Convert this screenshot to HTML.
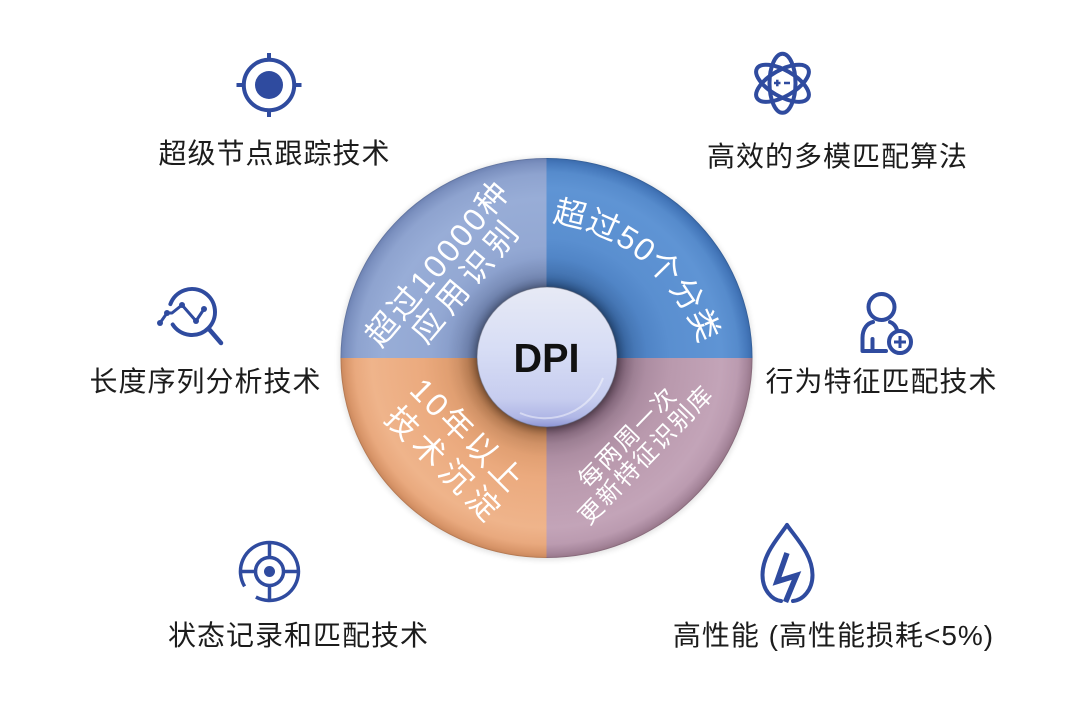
<!DOCTYPE html>
<html>
<head>
<meta charset="utf-8">
<style>
html,body{margin:0;padding:0;background:#fff;}
svg{display:block;}
.lbl{font-family:"Liberation Sans","Noto Sans CJK SC",sans-serif;font-size:28px;fill:#1c1c1c;letter-spacing:1px;text-anchor:middle;}
.q{font-family:"Liberation Sans","Noto Sans CJK SC",sans-serif;fill:#fff;text-anchor:middle;}
</style>
</head>
<body>
<svg width="1080" height="717" viewBox="0 0 1080 717" xmlns="http://www.w3.org/2000/svg">
<defs>
  <radialGradient id="gTL" gradientUnits="userSpaceOnUse" cx="0" cy="0" r="206">
    <stop offset="0.33" stop-color="#6a7fb0"/>
    <stop offset="0.43" stop-color="#8499c7"/>
    <stop offset="0.56" stop-color="#93a8d3"/>
    <stop offset="0.8" stop-color="#98add7"/>
    <stop offset="0.92" stop-color="#8ea3cf"/>
    <stop offset="0.975" stop-color="#7b90bf"/>
    <stop offset="1" stop-color="#6d82b3"/>
  </radialGradient>
  <radialGradient id="gTR" gradientUnits="userSpaceOnUse" cx="0" cy="0" r="206">
    <stop offset="0.33" stop-color="#30609f"/>
    <stop offset="0.43" stop-color="#4a7ec0"/>
    <stop offset="0.6" stop-color="#5a8fd0"/>
    <stop offset="0.85" stop-color="#5f94d4"/>
    <stop offset="0.93" stop-color="#568bcc"/>
    <stop offset="0.975" stop-color="#4578bb"/>
    <stop offset="1" stop-color="#3a6aab"/>
  </radialGradient>
  <radialGradient id="gBL" gradientUnits="userSpaceOnUse" cx="0" cy="0" r="206">
    <stop offset="0.33" stop-color="#b8784a"/>
    <stop offset="0.43" stop-color="#dc9a6c"/>
    <stop offset="0.6" stop-color="#ebaa7e"/>
    <stop offset="0.85" stop-color="#efb48b"/>
    <stop offset="0.93" stop-color="#e9a97e"/>
    <stop offset="0.975" stop-color="#d9966a"/>
    <stop offset="1" stop-color="#c9875c"/>
  </radialGradient>
  <radialGradient id="gBR" gradientUnits="userSpaceOnUse" cx="0" cy="0" r="206">
    <stop offset="0.33" stop-color="#7d5d75"/>
    <stop offset="0.43" stop-color="#a6879c"/>
    <stop offset="0.6" stop-color="#b999ad"/>
    <stop offset="0.85" stop-color="#c3a4b8"/>
    <stop offset="0.93" stop-color="#bb9bb0"/>
    <stop offset="0.975" stop-color="#a6869b"/>
    <stop offset="1" stop-color="#977689"/>
  </radialGradient>
  <radialGradient id="hubShadow" gradientUnits="userSpaceOnUse" cx="547" cy="357" r="100">
    <stop offset="0.68" stop-color="#000" stop-opacity="0.28"/>
    <stop offset="0.8" stop-color="#000" stop-opacity="0.09"/>
    <stop offset="1" stop-color="#000" stop-opacity="0"/>
  </radialGradient>
  <linearGradient id="hubG" x1="0" y1="0" x2="0" y2="1">
    <stop offset="0" stop-color="#e7eaf5"/>
    <stop offset="0.45" stop-color="#d7ddf5"/>
    <stop offset="0.8" stop-color="#c7cdef"/>
    <stop offset="0.93" stop-color="#b0b7e6"/>
    <stop offset="1" stop-color="#8d95d5"/>
  </linearGradient>
  <filter id="blur" x="-20%" y="-20%" width="140%" height="140%">
    <feGaussianBlur stdDeviation="3"/>
  </filter>
  <path id="arcTR" d="M492.1,222.9 A185,185 0 0 1 710,404.2"/>
</defs>

<!-- soft outer shadow -->
<ellipse cx="546.5" cy="359" rx="207" ry="201" fill="#000" opacity="0.12" filter="url(#blur)"/>

<!-- ring quadrants -->
<g transform="translate(546.5 358) scale(1 0.9709)">
  <path d="M0,0 L-206,0 A206,206 0 0 1 0,-206 Z" fill="url(#gTL)"/>
  <path d="M0,0 L0,-206 A206,206 0 0 1 206,0 Z" fill="url(#gTR)"/>
  <path d="M0,0 L206,0 A206,206 0 0 1 0,206 Z" fill="url(#gBR)"/>
  <path d="M0,0 L0,206 A206,206 0 0 1 -206,0 Z" fill="url(#gBL)"/>
  <circle cx="0" cy="0" r="205.5" fill="none" stroke="#000" stroke-opacity="0.1" stroke-width="1"/>
</g>

<!-- hub shadow -->
<circle cx="547" cy="357" r="100" fill="url(#hubShadow)"/>

<!-- quadrant texts -->
<text class="q" font-size="32" letter-spacing="2.5" transform="translate(446.4 270.1) rotate(-50)">超过10000种</text>
<text class="q" font-size="32" letter-spacing="6" transform="translate(475 287.3) rotate(-50)">应用识别</text>

<text class="q" font-size="32" letter-spacing="1"><textPath href="#arcTR" startOffset="50%">超过50个分类</textPath></text>

<text class="q" font-size="32" letter-spacing="3" transform="translate(459.8 443.4) rotate(45)">10年以上</text>
<text class="q" font-size="32" letter-spacing="6" transform="translate(436.8 473.4) rotate(45)">技术沉淀</text>

<text class="q" font-size="24" letter-spacing="2" transform="translate(633.6 443) rotate(-46)">每两周一次</text>
<text class="q" font-size="24" letter-spacing="2" transform="translate(652.1 460.5) rotate(-46)">更新特征识别库</text>

<!-- hub -->
<circle cx="547" cy="358" r="71" fill="#000" opacity="0.22" filter="url(#blur)"/>
<circle cx="547" cy="357" r="70" fill="url(#hubG)" stroke="#5a5f70" stroke-opacity="0.45" stroke-width="1.2"/>
<path d="M603,378 A62,62 0 0 1 520,413" fill="none" stroke="#fff" stroke-opacity="0.45" stroke-width="2"/>
<text x="546.5" y="372" font-family="Liberation Sans, sans-serif" font-weight="bold" font-size="41" fill="#111" text-anchor="middle" textLength="66" lengthAdjust="spacingAndGlyphs">DPI</text>

<!-- Icon 1: crosshair -->
<g stroke="#2f4b9f" stroke-width="4" fill="none">
  <circle cx="269" cy="85" r="25.2"/>
  <line x1="269" y1="53" x2="269" y2="60"/>
  <line x1="269" y1="110" x2="269" y2="117"/>
  <line x1="236.5" y1="85" x2="244" y2="85"/>
  <line x1="294" y1="85" x2="301.5" y2="85"/>
</g>
<circle cx="269" cy="85" r="14" fill="#2f4b9f"/>

<!-- Icon 2: atom -->
<g stroke="#2f4b9f" stroke-width="4" fill="none" transform="translate(782.5 83.3)">
  <ellipse cx="0" cy="0" rx="29.5" ry="13" transform="rotate(90)"/>
  <ellipse cx="0" cy="0" rx="29.5" ry="13" transform="rotate(30)"/>
  <ellipse cx="0" cy="0" rx="29.5" ry="13" transform="rotate(-30)"/>
</g>
<g stroke="#2f4b9f" stroke-width="2.5">
  <line x1="774" y1="83" x2="780.5" y2="83"/>
  <line x1="777.3" y1="79.7" x2="777.3" y2="86.3"/>
  <line x1="784" y1="83" x2="790" y2="83"/>
</g>

<!-- Icon 3: magnifier with chart -->
<g stroke="#2f4b9f" fill="none" stroke-linecap="round" stroke-linejoin="round">
  <path d="M170.4,304.1 A23,23 0 1 1 172.7,324.5" stroke-width="4"/>
  <line x1="208.5" y1="328.5" x2="221" y2="343" stroke-width="4.5"/>
  <polyline points="160,323 167,313 172,313 182,305 196,321 204,309" stroke-width="3"/>
</g>
<g fill="#2f4b9f">
  <circle cx="160" cy="323" r="3"/>
  <circle cx="167" cy="313" r="3"/>
  <circle cx="182" cy="305" r="3"/>
  <circle cx="196" cy="321" r="3"/>
  <circle cx="204" cy="309" r="3"/>
</g>

<!-- Icon 4: user plus -->
<g stroke="#2f4b9f" stroke-width="4" fill="none" stroke-linejoin="round" stroke-linecap="round">
  <circle cx="881.5" cy="307" r="13"/>
  <path d="M886,351 H862.5 V338 C862.5,328 868,323 873,322"/>
  <path d="M890,322 C893,323 896,326 897,330"/>
  <line x1="872.5" y1="339" x2="872.5" y2="350"/>
  <circle cx="900" cy="342" r="11"/>
</g>
<g stroke="#2f4b9f" stroke-width="3">
  <line x1="894" y1="342" x2="906" y2="342"/>
  <line x1="900" y1="336" x2="900" y2="348"/>
</g>

<!-- Icon 5: target -->
<g stroke="#2f4b9f" stroke-width="3.5" fill="none">
  <path d="M244.6,586.4 A29,29 0 1 1 255.9,597.1"/>
  <circle cx="269.5" cy="571.5" r="14"/>
  <line x1="269.5" y1="542.5" x2="269.5" y2="557.5"/>
  <line x1="269.5" y1="585.5" x2="269.5" y2="600.5"/>
  <line x1="240.5" y1="571.5" x2="255.5" y2="571.5"/>
  <line x1="283.5" y1="571.5" x2="298.5" y2="571.5"/>
</g>
<circle cx="269.5" cy="571.5" r="5.5" fill="#2f4b9f"/>

<!-- Icon 6: drop with lightning -->
<g stroke="#2f4b9f" stroke-width="4" fill="none" stroke-linecap="round">
  <path d="M787,525 C779,537 762.5,554 762.5,575 C762.5,590 772,600 781,601"/>
  <path d="M787,525 C795,537 812.5,554 812.5,575 C812.5,590 803,600 793,601"/>
</g>
<polyline points="787,553 777,581.5 796.5,575.5 785.5,602" stroke="#2f4b9f" stroke-width="5.5" fill="none" stroke-linejoin="miter"/>

<!-- Labels -->
<text class="lbl" x="274.5" y="163">超级节点跟踪技术</text>
<text class="lbl" x="837.5" y="166">高效的多模匹配算法</text>
<text class="lbl" x="205.5" y="391">长度序列分析技术</text>
<text class="lbl" x="881.5" y="391">行为特征匹配技术</text>
<text class="lbl" x="298.5" y="645">状态记录和匹配技术</text>
<text class="lbl" x="833.5" y="645">高性能 (高性能损耗&lt;5%)</text>
</svg>
</body>
</html>
